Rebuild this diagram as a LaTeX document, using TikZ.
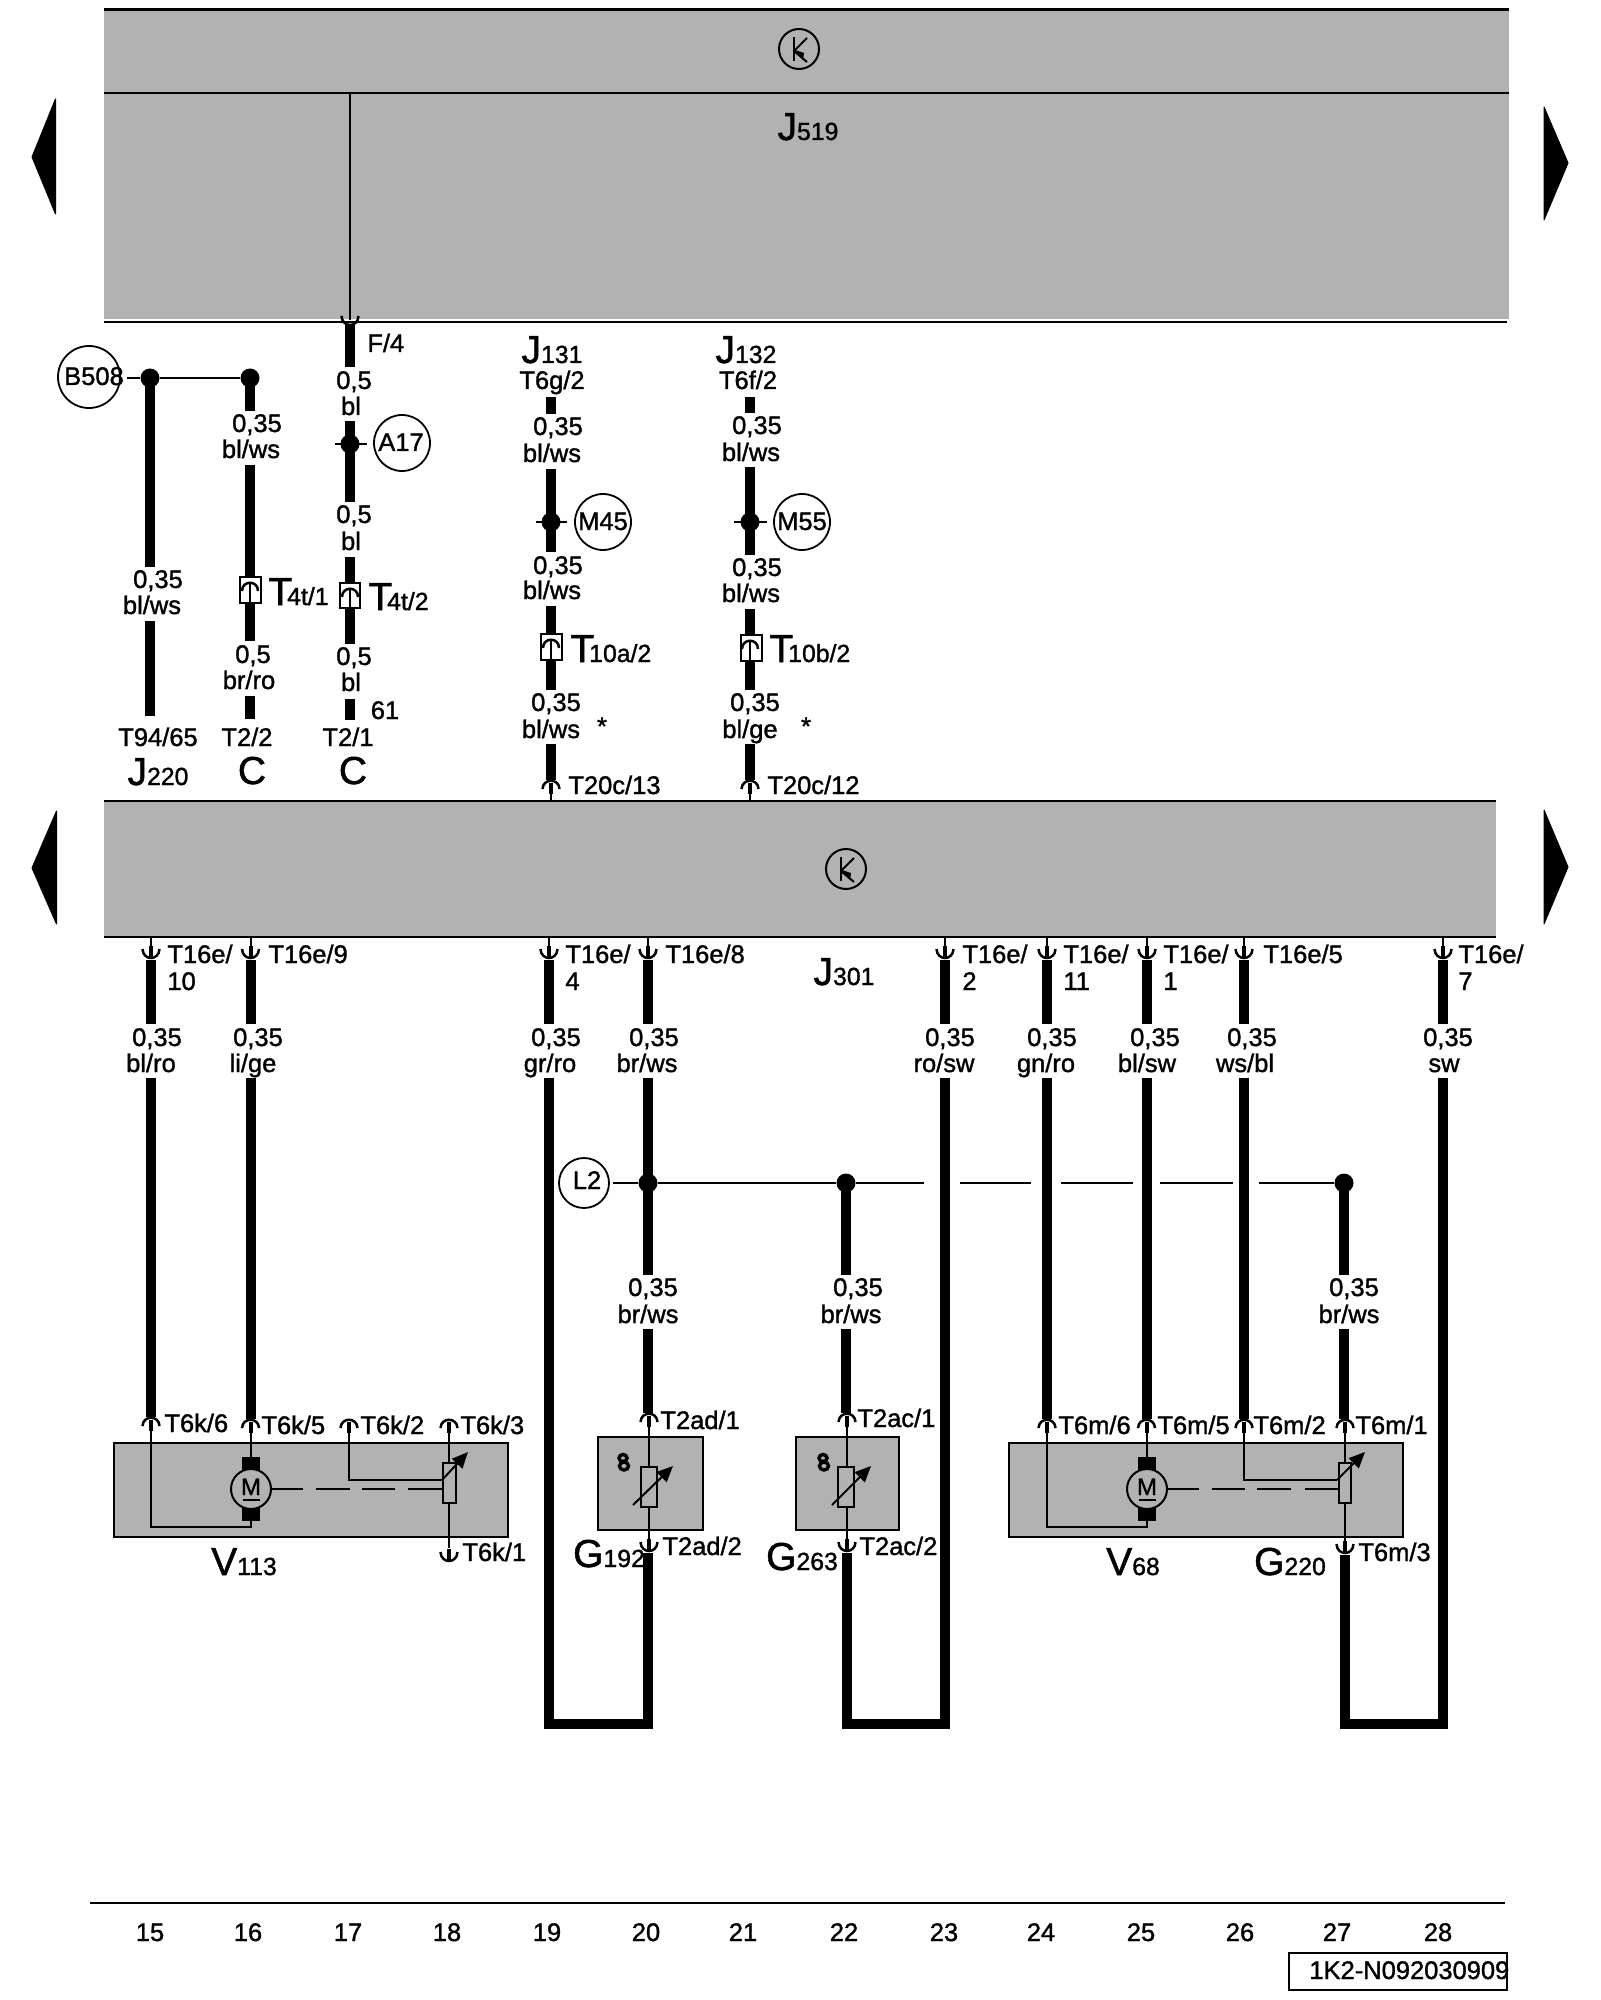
\documentclass[tikz,border=0pt]{standalone}
\usepackage{fontspec}
\usetikzlibrary{arrows.meta}
\setmainfont{Liberation Sans}
\newfontfamily\lblfont[FakeBold=1.3]{Liberation Sans}
\definecolor{bargrey}{RGB}{178,178,178}
\newcounter{tn}
\newcommand\txc[3]{\stepcounter{tn}\node[lbl,anchor=base] (t\arabic{tn}) at (#1,#2+8) {#3};}
\newcommand\txl[3]{\stepcounter{tn}\node[lbl,anchor=base west] (t\arabic{tn}) at (#1,#2+8) {#3};}
\newcommand\BS[2]{{\fontsize{19.5}{19.5}\selectfont #1}{\fontsize{12.4}{12.4}\selectfont #2}}
\newcommand\BT[1]{{\fontsize{19.5}{19.5}\selectfont T}\kern-2.5pt{\fontsize{12.4}{12.4}\selectfont #1}}
\newcommand\wire[4]{\coordinate (#1a) at (#2,#3);\coordinate (#1b) at (#2,#4);\draw[wirethick] (#1a) -- (#1b);}
\newcommand\pinU[2]{\draw[pinline] (#1-8.5,#2-11) .. controls (#1-8,#2+1) and (#1+8,#2+1) .. (#1+8.5,#2-11);\draw[line width=2pt] (#1,#2-14) -- (#1,#2-3);}
\newcommand\pinN[2]{\draw[pinline] (#1-8.5,#2+9) .. controls (#1-8,#2-2) and (#1+8,#2-2) .. (#1+8.5,#2+9);\draw[line width=2pt] (#1,#2+3) -- (#1,#2+14);}
\newcommand\pinB[2]{\draw[pinline] (#1-8,#2+9) .. controls (#1-8,#2-2) and (#1+8,#2-2) .. (#1+8,#2+9);\draw[thinline] (#1,#2+2) -- (#1,#2+20);}
\newcommand\motor[1]{\fill (#1-9,1457) rectangle (#1+9,1472);\fill (#1-9,1506) rectangle (#1+9,1521);
  \draw[thinline,fill=bargrey] (#1,1489) circle (20);
  \txc{#1}{1487}{\fontsize{12}{12}\selectfont M}
  \draw[line width=1.3pt] (#1-8.5,1500) -- (#1+8.5,1500);}
\newcommand\therm[2]{\draw[line width=1.7pt] (#1,#2-4) ellipse (4 and 3.5);\draw[line width=1.7pt] (#1+1,#2+4) ellipse (4.5 and 4);}
\newcommand\ksym[2]{\draw[thinline] (#1,#2) circle (20);\draw[thinline] (#1-5,#2-12) -- (#1-5,#2+12);
  \draw[thinline] (#1+8,#2-11) -- (#1-5,#2+2);\draw[thinline] (#1-5,#2+2) -- (#1+8,#2+13);
  \fill (#1-4,#2+1) -- (#1+5,#2+4) -- (#1+4,#2+11) -- cycle;}
\begin{document}
\begin{tikzpicture}[x=0.5pt,y=-0.5pt,
  lbl/.style={inner sep=0pt,font=\lblfont\fontsize{12.75}{12.75}\selectfont},
  wirethick/.style={line width=5pt},
  thinline/.style={line width=1pt},
  barline/.style={line width=1.1pt},
  pinline/.style={line width=1.25pt},
  hwire/.style={line width=0.9pt},
  grey/.style={fill=bargrey},
  ring/.style={circle,draw,line width=0.9pt,inner sep=0pt},
  dotnode/.style={circle,fill=black,inner sep=0pt,minimum size=9.5pt},
  tri/.style={fill=black,line width=0.5pt,draw=black,line join=round}]
\useasboundingbox (0,0) rectangle (1600,2000);
\fill[white] (0,0) rectangle (1600,2000);
% bars
\fill[grey] (104,9.5) rectangle (1509,319);
\draw[barline] (104,9.5) -- (1509,9.5);
\draw[barline] (104,93) -- (1509,93);
\draw[barline] (104,322) -- (1507,322);
\fill[grey] (104,801) rectangle (1496,937);
\draw[barline] (104,801) -- (1496,801);
\draw[barline] (104,937) -- (1496,937);
% triangles
\fill[tri] (32,157) -- (55.5,99) -- (55.5,214) -- cycle;
\fill[tri] (1568,163) -- (1544,107) -- (1544,220) -- cycle;
\fill[tri] (32,868) -- (56.5,811) -- (56.5,924) -- cycle;
\fill[tri] (1568,867) -- (1544,810) -- (1544,924) -- cycle;
\ksym{799}{49}
\ksym{846}{869}
\txc{808}{132}{\BS{J}{519}}
\txc{844}{977}{\BS{J}{301}}
% F/4 wire
\coordinate (fa) at (350,93);\coordinate (fb) at (350,320);
\draw[thinline] (fa) -- (fb);
\draw[pinline] (341.5,316) .. controls (342,328) and (358,328) .. (358.5,316);
\wire{wa}{350}{325}{367}
\txl{367}{344}{F/4}
\txc{354}{381}{0,5}\txc{351}{407}{bl}
\wire{wb}{350}{421}{502}
\node[dotnode] (da17) at (350,444) {};
\node[ring,minimum size=28pt] (A17) at (402,443) {};
\txc{401}{443}{A17}
\coordinate (da) at (335,444);\draw[hwire] (da) -- (367,444);
\txc{354}{515}{0,5}\txc{351}{542}{bl}
\wire{wc}{350}{557}{644}
\txc{354}{657}{0,5}\txc{351}{683}{bl}
\wire{wd}{350}{699}{720}
\txc{385}{711}{61}
\txc{348}{738}{T2/1}
\txc{353}{776}{{\fontsize{19.5}{19.5}\selectfont C}}
\node[draw,thinline,fill=white,minimum width=10pt,minimum height=12.5pt,inner sep=0pt] (b4t2) at (350,595.5) {};
\txl{368}{602}{\BT{4t/2}}
% w15
\node[ring,minimum size=31pt] (B508) at (89,377) {};
\txc{94}{377}{B508}
\node[dotnode] (d15) at (150,378) {};
\node[dotnode] (d16) at (250,378) {};
\draw[hwire] (127,378) -- (d15) -- (d16);
\wire{xa}{150}{378}{567}
\wire{xb}{150}{621}{716}
\txc{158}{580}{0,35}\txc{152}{606}{bl/ws}
\txc{158}{738}{T94/65}
\txc{158}{777}{\BS{J}{220}}
% w16
\wire{ya}{250}{378}{411}
\wire{yb}{250}{465}{641}
\wire{yc}{250}{696}{719}
\txc{257}{424}{0,35}\txc{251}{450}{bl/ws}
\txc{253}{655}{0,5}\txc{249}{681}{br/ro}
\txc{247}{738}{T2/2}
\txc{252}{776}{{\fontsize{19.5}{19.5}\selectfont C}}
\node[draw,thinline,fill=white,minimum width=10.5pt,minimum height=13pt,inner sep=0pt] (b4t1) at (250.5,590) {};
\txl{268}{597}{\BT{4t/1}}
\pinB{250}{582}\pinB{350}{588}
% J131
\txc{552}{355}{\BS{J}{131}}
\txc{552}{381}{T6g/2}
\wire{pa}{551}{397}{414}
\txc{558}{427}{0,35}\txc{552}{454}{bl/ws}
\wire{pb}{551}{469}{552}
\node[dotnode] (d45) at (551,522) {};
\draw[hwire] (536,522) -- (567,522);
\node[ring,minimum size=28pt] (M45) at (603,522) {};
\txc{603}{522}{M45}
\txc{558}{566}{0,35}\txc{552}{591}{bl/ws}
\wire{pc}{551}{606}{690}
\node[draw,thinline,fill=white,minimum width=10.5pt,minimum height=13pt,inner sep=0pt] (b10a) at (551.5,647) {};
\pinB{551}{639}
\txl{570}{654}{\BT{10a/2}}
\txc{556}{703}{0,35}\txc{551}{730}{bl/ws}\txc{602}{727}{*}
\wire{pd}{551}{744}{780}
\pinN{551}{780}\draw[thinline] (551,794) -- (551,801);
\txl{568}{786}{T20c/13}
% J132
\txc{746}{355}{\BS{J}{132}}
\txc{748}{381}{T6f/2}
\wire{qa}{750}{397}{413}
\txc{757}{426}{0,35}\txc{751}{453}{bl/ws}
\wire{qb}{750}{467}{555}
\node[dotnode] (d55) at (750,522) {};
\draw[hwire] (734,522) -- (767,522);
\node[ring,minimum size=28pt] (M55) at (802,522) {};
\txc{802}{522}{M55}
\txc{757}{568}{0,35}\txc{751}{594}{bl/ws}
\wire{qc}{750}{609}{690}
\node[draw,thinline,fill=white,minimum width=10.5pt,minimum height=13pt,inner sep=0pt] (b10b) at (751,648) {};
\pinB{750}{640}
\txl{769}{654}{\BT{10b/2}}
\txc{755}{703}{0,35}\txc{750}{730}{bl/ge}\txc{806}{727}{*}
\wire{qd}{750}{744}{780}
\pinN{750}{780}\draw[thinline] (750,794) -- (750,801);
\txl{767}{786}{T20c/12}
% lower wires: top part
\def\lowtop#1#2{\wire{#2u}{#1}{960}{1024}\draw[thinline] (#1,937) -- (#1,948);\pinU{#1}{960}}
\lowtop{151}{ra}\lowtop{250.5}{rb}\lowtop{549}{rc}\lowtop{648}{rd}\lowtop{945}{re}\lowtop{1047}{rf}\lowtop{1147}{rg}\lowtop{1244}{rh}\lowtop{1443}{ri}
\txl{167}{955}{T16e/}\txl{167}{982}{10}
\txl{268}{955}{T16e/9}
\txl{565}{955}{T16e/}\txl{565}{982}{4}
\txl{665}{955}{T16e/8}
\txl{962}{955}{T16e/}\txl{962}{982}{2}
\txl{1063}{955}{T16e/}\txl{1063}{982}{11}
\txl{1163}{955}{T16e/}\txl{1163}{982}{1}
\txl{1263}{955}{T16e/5}
\txl{1458}{955}{T16e/}\txl{1458}{982}{7}
\txc{157}{1038}{0,35}\txc{151}{1064}{bl/ro}
\txc{258}{1038}{0,35}\txc{253}{1064}{li/ge}
\txc{556}{1038}{0,35}\txc{550}{1064}{gr/ro}
\txc{654}{1038}{0,35}\txc{647}{1064}{br/ws}
\txc{950}{1038}{0,35}\txc{944}{1064}{ro/sw}
\txc{1052}{1038}{0,35}\txc{1046}{1064}{gn/ro}
\txc{1155}{1038}{0,35}\txc{1147}{1064}{bl/sw}
\txc{1252}{1038}{0,35}\txc{1245}{1064}{ws/bl}
\txc{1448}{1038}{0,35}\txc{1444}{1064}{sw}
% long wires
\wire{sa}{151}{1078}{1417}
\wire{sb}{250.5}{1078}{1419}
\wire{sf}{1047}{1078}{1419}
\wire{sg}{1147}{1078}{1419}
\wire{sh}{1244}{1078}{1419}
\wire{sd}{648}{1078}{1275}
\wire{sd2}{648}{1329}{1413}
\coordinate (lp1) at (549,1078);\coordinate (lp2) at (549,1724);\coordinate (lp3) at (648,1724);\coordinate (lp4) at (648,1553);
\draw[wirethick] (lp1) -- (lp2) -- (lp3) -- (lp4);
\coordinate (lq1) at (945,1078);\coordinate (lq2) at (945,1724);\coordinate (lq3) at (847,1724);\coordinate (lq4) at (847,1553);
\draw[wirethick] (lq1) -- (lq2) -- (lq3) -- (lq4);
\coordinate (lr1) at (1443,1078);\coordinate (lr2) at (1443,1724);\coordinate (lr3) at (1345,1724);\coordinate (lr4) at (1345,1555);
\draw[wirethick] (lr1) -- (lr2) -- (lr3) -- (lr4);
% L2 line
\node[ring,minimum size=25pt] (L2) at (584,1183) {};
\txc{587}{1181}{L2}
\node[dotnode] (dl1) at (648,1183) {};
\node[dotnode] (dl2) at (846,1183) {};
\node[dotnode] (dl3) at (1344,1183) {};
\coordinate (h1) at (924,1183);\coordinate (h2) at (960,1183);\coordinate (h3) at (1031,1183);\coordinate (h4) at (1061,1183);\coordinate (h5) at (1133,1183);\coordinate (h6) at (1160,1183);\coordinate (h7) at (1233,1183);\coordinate (h8) at (1259,1183);
\draw[hwire] (613,1183) -- (dl1) -- (dl2) -- (h1);
\draw[hwire] (h2) -- (h3);\draw[hwire] (h4) -- (h5);\draw[hwire] (h6) -- (h7);\draw[hwire] (h8) -- (dl3);
\wire{tg}{846}{1183}{1275}
\wire{tg2}{846}{1329}{1413}
\wire{tm}{1344}{1183}{1275}
\wire{tm2}{1344}{1329}{1419}
\txc{653}{1288}{0,35}\txc{648}{1315}{br/ws}
\txc{858}{1288}{0,35}\txc{851}{1315}{br/ws}
\txc{1354}{1288}{0,35}\txc{1349}{1315}{br/ws}
% V113 box
\draw[thinline,fill=bargrey] (114,1443) rectangle (508,1537);
\pinN{151}{1417}\pinN{250.5}{1419}\pinN{349}{1419}\pinN{449}{1419}
\motor{251}
\draw[thinline] (151,1431) -- (151,1527) -- (250.5,1527) -- (250.5,1521);
\draw[thinline] (250.5,1433) -- (250.5,1457);
\draw[thinline] (349,1433) -- (349,1480) -- (442,1480);
\draw[thinline] (449,1433) -- (449,1463);
\draw[thinline] (449,1503) -- (449,1548);
\pinU{449}{1563}
\draw[thinline] (443,1463) rectangle (456,1503);
\draw[thinline,-{Triangle[length=8pt,width=7pt]}] (442,1480) -- (468,1452);
\draw[hwire] (272,1489) -- (303,1489);\draw[hwire] (316,1489) -- (350,1489);\draw[hwire] (362,1489) -- (395,1489);\draw[hwire] (408,1489) -- (443,1489);
\txl{164}{1424}{T6k/6}\txl{261}{1426}{T6k/5}\txl{360}{1426}{T6k/2}\txl{460}{1426}{T6k/3}\txl{462}{1553}{T6k/1}
\txc{244}{1567}{\BS{V}{113}}
% V68 box
\draw[thinline,fill=bargrey] (1009,1443) rectangle (1403,1537);
\pinN{1047}{1419}\pinN{1146.5}{1419}\pinN{1244}{1419}\pinN{1345}{1419}
\motor{1147}
\draw[thinline] (1047,1433) -- (1047,1527) -- (1146.5,1527) -- (1146.5,1521);
\draw[thinline] (1146.5,1433) -- (1146.5,1457);
\draw[thinline] (1244,1433) -- (1244,1480) -- (1337,1480);
\draw[thinline] (1345,1433) -- (1345,1463);
\draw[thinline] (1345,1503) -- (1345,1542);
\pinU{1345}{1555}
\draw[thinline] (1339,1463) rectangle (1351,1503);
\draw[thinline,-{Triangle[length=8pt,width=7pt]}] (1337,1480) -- (1365,1452);
\draw[hwire] (1167,1489) -- (1199,1489);\draw[hwire] (1212,1489) -- (1245,1489);\draw[hwire] (1257,1489) -- (1291,1489);\draw[hwire] (1305,1489) -- (1339,1489);
\txl{1058}{1426}{T6m/6}\txl{1157}{1426}{T6m/5}\txl{1253}{1426}{T6m/2}\txl{1355}{1426}{T6m/1}\txl{1358}{1553}{T6m/3}
\txc{1133}{1567}{\BS{V}{68}}
\txc{1290}{1567}{\BS{G}{220}}
% G192
\draw[thinline,fill=bargrey] (598,1437) rectangle (703,1530);
\pinN{649}{1413}
\draw[thinline] (649,1427) -- (649,1467);\draw[thinline] (649,1507) -- (649,1541);
\pinU{649}{1553}
\draw[thinline] (641,1467) rectangle (657,1507);
\draw[thinline,-{Triangle[length=8pt,width=7pt]}] (633,1505) -- (673,1466);
\therm{623}{1462}
\txl{660}{1421}{T2ad/1}\txl{662}{1547}{T2ad/2}
\txc{609}{1559}{\BS{G}{192}}
% G263
\draw[thinline,fill=bargrey] (796,1437) rectangle (899,1530);
\pinN{847}{1413}
\draw[thinline] (847,1427) -- (847,1467);\draw[thinline] (847,1507) -- (847,1541);
\pinU{847}{1553}
\draw[thinline] (838,1467) rectangle (854,1507);
\draw[thinline,-{Triangle[length=8pt,width=7pt]}] (832,1505) -- (871,1466);
\therm{823}{1462}
\txl{857}{1419}{T2ac/1}\txl{859}{1547}{T2ac/2}
\txc{802}{1562}{\BS{G}{263}}
% bottom
\draw[barline] (90,1903) -- (1505,1903);
\txc{150}{1933}{15}\txc{248}{1933}{16}\txc{348}{1933}{17}\txc{447}{1933}{18}\txc{547}{1933}{19}\txc{646}{1933}{20}\txc{743}{1933}{21}\txc{844}{1933}{22}\txc{944}{1933}{23}\txc{1041}{1933}{24}\txc{1141}{1933}{25}\txc{1240}{1933}{26}\txc{1337}{1933}{27}\txc{1438}{1933}{28}
\draw[barline] (1289,1953) rectangle (1507,1990);
\txl{1309}{1971}{1K2-N092030909}
\end{tikzpicture}
\end{document}
